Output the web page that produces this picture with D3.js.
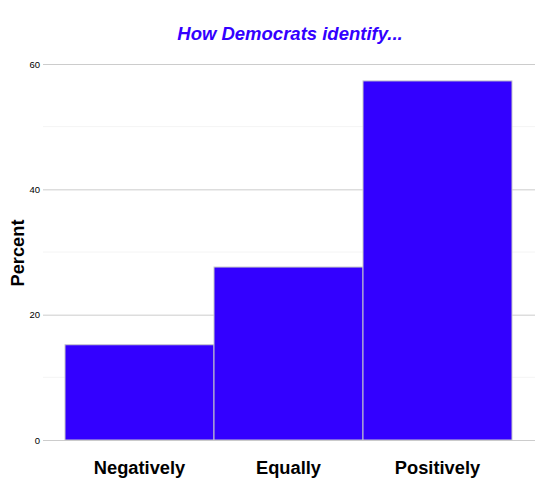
<!DOCTYPE html>
<html>
<head>
<meta charset="utf-8">
<script src="https://cdn.jsdelivr.net/npm/d3@7"></script>
<style>
  body { margin: 0; background: #fff; }
  text { font-family: "Liberation Sans", Arial, Helvetica, sans-serif; }
</style>
</head>
<body>
<svg id="chart" width="556" height="499"></svg>
<script>
// data
var categories = ['Negatively', 'Equally', 'Positively'];
var percents = [15.2, 27.6, 57.3];
var majorTicks = [0, 20, 40, 60];
var minorTicks = [10, 30, 50];
var chartTitle = 'How Democrats identify...';
var yLabel = 'Percent';

var svg = d3.select('#chart');
var barColor = '#3300ff';

// plot area
var left = 43, right = 535;
var y = d3.scaleLinear().domain([0, 60]).range([440, 64]);
var x = d3.scaleBand().domain(categories).range([65, 512]).padding(0);

// minor grid
svg.append('g').selectAll('line').data(minorTicks)
    .enter().append('line')
    .attr('x1', left).attr('x2', right)
    .attr('y1', d => y(d)).attr('y2', d => y(d))
    .attr('stroke', '#f4f4f4').attr('stroke-width', 1);

// major grid + tick labels
var yAxis = d3.axisLeft(y).tickValues(majorTicks).tickSize(-(right - left)).tickPadding(3);
var gy = svg.append('g').attr('transform', 'translate(' + left + ',0)').call(yAxis);
gy.select('.domain').remove();
gy.selectAll('.tick line').attr('stroke', '#cccccc').attr('stroke-width', 1);
gy.selectAll('.tick text')
    .attr('font-size', 9.5)
    .attr('fill', '#000')
    .style('font-family', '"Liberation Sans", Arial, sans-serif');

// bars
svg.append('g').selectAll('rect').data(percents)
    .enter().append('rect')
    .attr('x', (d, i) => x(categories[i]))
    .attr('y', d => y(d))
    .attr('width', x.bandwidth())
    .attr('height', d => y(0) - y(d))
    .attr('fill', barColor)
    .attr('stroke', '#c8c8c8')
    .attr('stroke-width', 1);

// x labels
var xAxis = d3.axisBottom(x).tickSize(0).tickPadding(0);
var gx = svg.append('g').attr('transform', 'translate(0,458)').call(xAxis);
gx.select('.domain').remove();
gx.selectAll('.tick text')
    .attr('font-size', 18.3)
    .attr('font-weight', 'bold')
    .attr('fill', '#000')
    .attr('dy', '0.9em')
    .style('font-family', '"Liberation Sans", Arial, sans-serif');

// y label
svg.append('text')
    .attr('transform', 'translate(24,253) rotate(-90)')
    .attr('text-anchor', 'middle')
    .attr('font-size', 18.3)
    .attr('font-weight', 'bold')
    .text(yLabel);

// title
svg.append('text')
    .attr('x', 290).attr('y', 40)
    .attr('text-anchor', 'middle')
    .attr('font-size', 18.5)
    .attr('font-weight', 'bold')
    .attr('font-style', 'italic')
    .attr('fill', barColor)
    .text(chartTitle);
</script>
</body>
</html>
